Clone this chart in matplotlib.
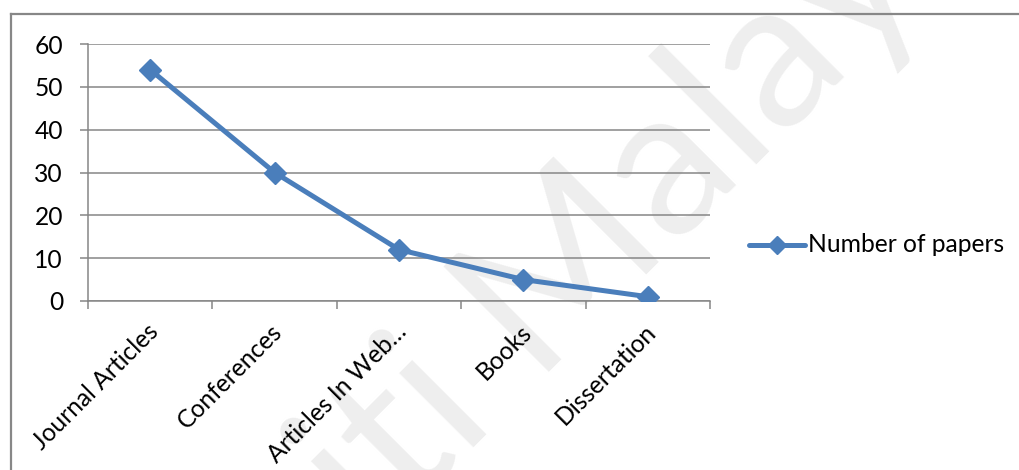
import matplotlib
matplotlib.use("Agg")
import matplotlib.pyplot as plt
from matplotlib.lines import Line2D

# Publication counts by source type
categories = ["Journal Articles", "Conferences", "Articles In Web\u2026", "Books", "Dissertation"]
papers = [54, 30, 12, 5, 1]
series_name = "Number of papers"
y_ticks = [0, 10, 20, 30, 40, 50, 60]

W, H, DPI = 1019, 470, 100
LINE_BLUE = "#4a7ebb"
GRID_GRAY = "#868686"
FONT = "Lato"
FS = 17.7

plt.rcParams["font.family"] = [FONT, "DejaVu Sans"]

fig = plt.figure(figsize=(W / DPI, H / DPI), dpi=DPI)
fig.patch.set_facecolor("white")

# faint background watermark
fig.text(1003 / W, (H + 82) / H, "Universiti Malaya", rotation=45,
         rotation_mode="anchor", ha="right", va="baseline",
         fontsize=150, color="#eeeeee", zorder=-5, family=FONT)

# outer chart frame (left and top edges)
frame_kw = dict(transform=fig.transFigure, color="#878787", lw=1.6)
fig.add_artist(Line2D([11 / W, 11 / W], [0, (H - 14) / H], **frame_kw))
fig.add_artist(Line2D([11 / W, 1.0], [(H - 14) / H, (H - 14) / H], **frame_kw))

ax = fig.add_axes([88 / W, (H - 301) / H, 622 / W, 257 / H])
ax.patch.set_alpha(0)

x = [i + 0.5 for i in range(len(categories))]
ax.plot(x, papers, color=LINE_BLUE, lw=3.6, marker="D", ms=11,
        markerfacecolor=LINE_BLUE, markeredgecolor=LINE_BLUE, zorder=3,
        solid_joinstyle="round", solid_capstyle="round")

ax.set_xlim(0, len(categories))
ax.set_ylim(0, 60)
ax.set_yticks(y_ticks)
ax.set_yticklabels([str(v) for v in y_ticks])
ax.set_xticks(range(len(categories) + 1))
ax.set_xticklabels([])

ax.grid(axis="y", color=GRID_GRAY, lw=1.1, zorder=1)
ax.set_axisbelow(True)
for side in ("top", "right"):
    ax.spines[side].set_visible(False)
for side in ("left", "bottom"):
    ax.spines[side].set_color(GRID_GRAY)
    ax.spines[side].set_linewidth(1.1)

ax.tick_params(axis="y", length=6, width=1.1, color=GRID_GRAY,
               labelsize=FS, pad=12, labelcolor="black")
ax.tick_params(axis="x", length=6, width=1.1, color=GRID_GRAY)

# rotated category labels hanging below each point
for xi, label in zip(x, categories):
    ax.annotate(label, xy=(xi, 0), xycoords=("data", "axes fraction"),
                xytext=(4, -27), textcoords="offset pixels",
                rotation=45, rotation_mode="anchor", ha="right", va="center",
                fontsize=FS, color="black", annotation_clip=False)

# legend: sample line with marker plus series name
fig.add_artist(Line2D([749 / W, 805 / W], [(H - 245) / H] * 2,
                      transform=fig.transFigure, color=LINE_BLUE, lw=3.6,
                      solid_capstyle="round"))
fig.add_artist(Line2D([777 / W], [(H - 245) / H], transform=fig.transFigure,
                      marker="D", ms=9, color=LINE_BLUE, lw=0))
fig.text(808 / W, (H - 245) / H, series_name, ha="left", va="center",
         fontsize=FS, color="black")

fig.savefig("out.png", dpi=DPI)
